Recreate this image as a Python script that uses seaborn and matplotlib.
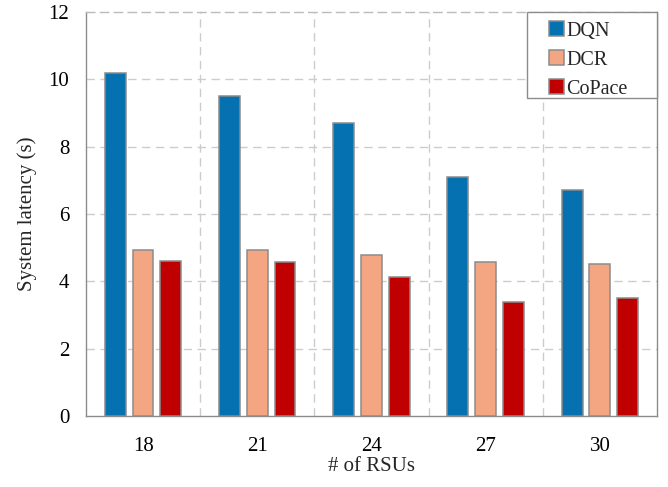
import matplotlib
matplotlib.use("Agg")
import matplotlib.pyplot as plt
from matplotlib.patches import Rectangle
import seaborn as sns
import pandas as pd

# Number of RSUs and system latency (s) for each scheme
rsus = ["18", "21", "24", "27", "30"]
dqn = [10.19, 9.51, 8.69, 7.10, 6.72]
dcr = [4.94, 4.92, 4.78, 4.56, 4.51]
copace = [4.60, 4.56, 4.13, 3.39, 3.51]
schemes = ["DQN", "DCR", "CoPace"]
colors = ["#0571b0", "#f4a582", "#c00000"]
yticks = [0, 2, 4, 6, 8, 10, 12]

df = pd.DataFrame({
    "rsu": rsus * 3,
    "latency": dqn + dcr + copace,
    "scheme": [s for s in schemes for _ in rsus],
})

sns.set_theme(style="white")
plt.rcParams["font.family"] = ["Liberation Serif", "DejaVu Serif"]

fig = plt.figure(figsize=(6.68, 4.87), dpi=100)
ax = fig.add_axes([0.1287, 0.1458, 0.8548, 0.8296])

sns.barplot(data=df, x="rsu", y="latency", hue="scheme", order=rsus,
            hue_order=schemes, palette=colors, width=0.73, gap=0.25,
            edgecolor="#8c8c8c", linewidth=1.1, saturation=1, ax=ax,
            zorder=3)

ax.set_xlim(-0.5, 4.5)
ax.set_ylim(0, 12)
ax.set_yticks(yticks)
ax.set_yticklabels([str(v) for v in yticks])

# Dashed grid: horizontal at y ticks, vertical between RSU groups
grid_kw = dict(color="#cccccc", linestyle=(0, (6, 4)), linewidth=1.0, zorder=0)
for y in yticks[1:-1]:
    ax.axhline(y, **grid_kw)
for x in [0.5, 1.5, 2.5, 3.5]:
    ax.axvline(x, **grid_kw)

for side in ["left", "bottom", "right"]:
    ax.spines[side].set_color("#8c8c8c")
    ax.spines[side].set_linewidth(1.0)
ax.spines["top"].set_color("#bbbbbb")
ax.spines["top"].set_linestyle((0, (6, 4)))
ax.spines["top"].set_linewidth(1.0)

ax.tick_params(axis="both", length=0, labelsize=15, colors="black")
ax.tick_params(axis="y", pad=12)
ax.tick_params(axis="x", pad=15)

ax.set_xlabel("# of RSUs", fontsize=15, labelpad=1)
ax.set_ylabel("System latency (s)", fontsize=15, labelpad=8)

# Legend in the upper-right corner, with a wide frame around it
leg = ax.legend(loc="upper left", bbox_to_anchor=(0.811, 0.977),
                borderaxespad=0, borderpad=0, frameon=False,
                fontsize=14.5, handlelength=0.75, handleheight=0.75,
                handletextpad=0.1, labelspacing=0.48, title=None)
leg.set_zorder(6)
ax.add_patch(Rectangle((0.772, 0.787), 0.228, 0.213, transform=ax.transAxes,
                       facecolor="white", edgecolor="#8c8c8c", linewidth=1.0,
                       zorder=5, clip_on=False))

fig.savefig("out.png", dpi=100)
